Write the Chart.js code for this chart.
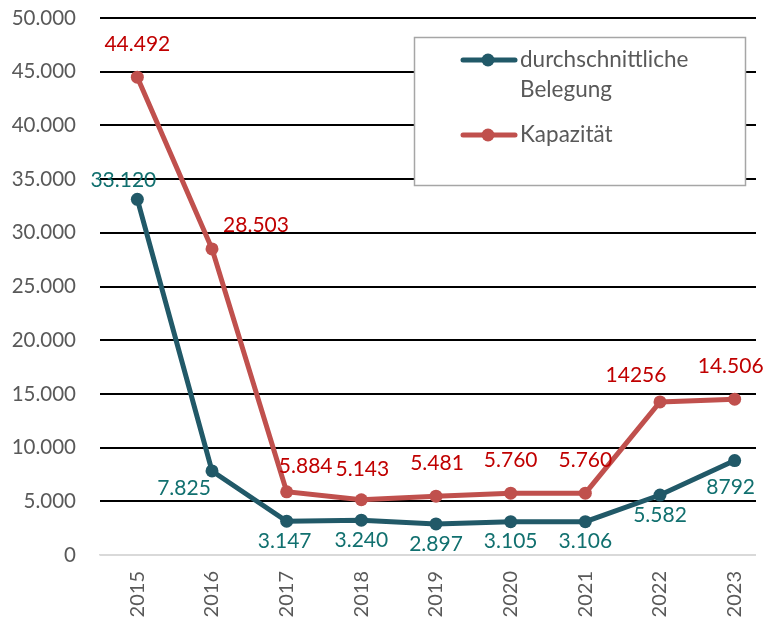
<!DOCTYPE html>
<html>
<head>
<meta charset="utf-8">
<script src="https://cdn.jsdelivr.net/npm/chart.js@4/dist/chart.umd.min.js"></script>
<style>
html,body{margin:0;padding:0;background:#fff;overflow:hidden;}
#wrap{width:763px;height:620px;overflow:hidden;position:relative;}
canvas{display:block;}
</style>
</head>
<body>
<div id="wrap"><canvas id="c" width="775" height="620"></canvas></div>
<script>
const years = ['2015','2016','2017','2018','2019','2020','2021','2022','2023'];
const belegung = [33120, 7825, 3147, 3240, 2897, 3105, 3106, 5582, 8792];
const kapazitaet = [44492, 28503, 5884, 5143, 5481, 5760, 5760, 14256, 14506];
const belegungLabels = ['33.120','7.825','3.147','3.240','2.897','3.105','3.106','5.582','8792'];
const kapazitaetLabels = ['44.492','28.503','5.884','5.143','5.481','5.760','5.760','14256','14.506'];
const seriesNames = ['durchschnittliche Belegung', 'Kapazität'];
const yTicks = [0,5000,10000,15000,20000,25000,30000,35000,40000,45000,50000];

const FONT = 'Lato, "Open Sans", sans-serif';
const BLUE = '#215968', RED = '#c0504d';
const BLUE_TXT = '#11706f', RED_TXT = '#c00000';

// label offsets relative to the point (style only)
const labelOffsets = [
  [[-14,-19],[-28,17],[-2,20],[0,20],[0,20],[0,20],[0,20],[0,20],[-4,27]],
  [[0,-33],[44,-24],[19,-26],[1,-31],[1,-33],[0,-33],[0,-33],[-24,-27],[-4,-33]]
];

function fmt(v){return String(v).replace(/\B(?=(\d{3})+(?!\d))/g,'.');}

const labelPlugin = {
  id:'pointLabels',
  afterDatasetsDraw(chart){
    const ctx = chart.ctx;
    ctx.save();
    ctx.font = '21px ' + FONT;
    ctx.textAlign = 'center';
    ctx.textBaseline = 'middle';
    chart.data.datasets.forEach((ds, i) => {
      const meta = chart.getDatasetMeta(i);
      ctx.fillStyle = ds.labelColor;
      meta.data.forEach((el, j) => {
        const o = labelOffsets[i][j];
        ctx.fillText(ds.pointLabels[j], el.x + o[0], el.y + o[1]);
      });
    });
    ctx.restore();
  }
};

const clipPlugin = {
  id:'gridClip',
  beforeDatasetsDraw(chart){
    const ctx = chart.ctx;
    ctx.save();
    ctx.fillStyle = '#fff';
    ctx.fillRect(756, 0, 40, chart.chartArea.bottom + 2);
    ctx.restore();
  }
};

const legendPlugin = {
  id:'boxLegend',
  afterDraw(chart){
    const ctx = chart.ctx;
    ctx.save();
    ctx.fillStyle = '#fff';
    ctx.fillRect(414, 37, 332, 149);
    ctx.strokeStyle = '#a6a6a6';
    ctx.lineWidth = 1.5;
    ctx.strokeRect(414.5, 37.5, 331, 148);
    const items = [
      {y:60, lines:['durchschnittliche','Belegung'], color:BLUE},
      {y:135, lines:['Kapazität'], color:RED}
    ];
    items.forEach(it => {
      ctx.strokeStyle = it.color;
      ctx.lineWidth = 5;
      ctx.lineCap = 'round';
      ctx.beginPath(); ctx.moveTo(463, it.y); ctx.lineTo(515, it.y); ctx.stroke();
      ctx.fillStyle = it.color;
      ctx.beginPath(); ctx.arc(488, it.y, 6.5, 0, Math.PI*2); ctx.fill();
      ctx.fillStyle = '#595959';
      ctx.font = '22.5px ' + FONT;
      ctx.textAlign = 'left';
      ctx.textBaseline = 'middle';
      it.lines.forEach((t, k) => ctx.fillText(t, 520, it.y + k*30));
    });
    ctx.restore();
  }
};

new Chart(document.getElementById('c'), {
  type:'line',
  data:{
    labels: years,
    datasets:[
      {label:seriesNames[0], data:belegung, borderColor:BLUE, backgroundColor:BLUE,
       borderWidth:5, pointRadius:6.5, pointHoverRadius:6.5, pointBackgroundColor:BLUE, pointBorderWidth:0,
       tension:0, pointLabels:belegungLabels, labelColor:BLUE_TXT},
      {label:seriesNames[1], data:kapazitaet, borderColor:RED, backgroundColor:RED,
       borderWidth:5, pointRadius:6.5, pointHoverRadius:6.5, pointBackgroundColor:RED, pointBorderWidth:0,
       tension:0, pointLabels:kapazitaetLabels, labelColor:RED_TXT}
    ]
  },
  options:{
    responsive:false,
    animation:false,
    layout:{autoPadding:false, padding:{top:18, right:3, left:0, bottom:0}},
    plugins:{legend:{display:false}, tooltip:{enabled:false}},
    scales:{
      x:{
        offset:true,
        grid:{display:false, drawTicks:false},
        border:{display:true, color:'#d9d9d9', width:1.5},
        ticks:{color:'#595959', font:{family:FONT, size:20}, minRotation:90, maxRotation:90, padding:16},
        afterFit(s){ s.height = 65; s.paddingLeft = 0; s.paddingRight = 0; }
      },
      y:{
        min:0, max:50000,
        afterBuildTicks(s){ s.ticks = yTicks.map(v => ({value:v})); },
        grid:{color:(c)=> c.tick && c.tick.value === 0 ? '#d9d9d9' : '#000', lineWidth:2, drawTicks:false},
        border:{display:false},
        ticks:{color:'#595959', font:{family:FONT, size:20.5}, padding:24, callback:(v)=>fmt(v)},
        afterFit(s){ s.width = 100; s.paddingTop = 0; s.paddingBottom = 0; }
      }
    }
  },
  plugins:[clipPlugin, labelPlugin, legendPlugin]
});
</script>
</body>
</html>
